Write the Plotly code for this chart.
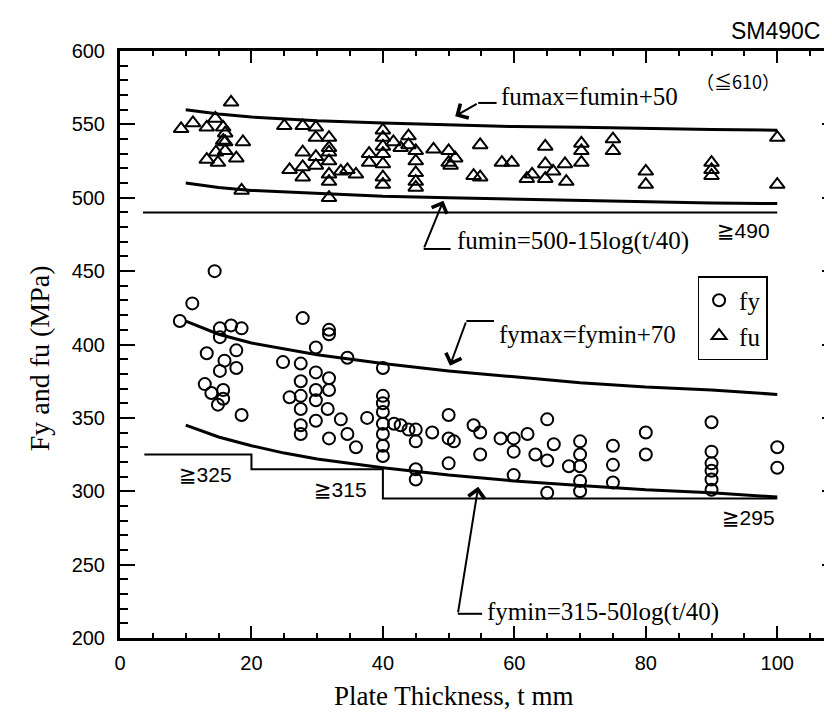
import plotly.graph_objects as go

# ---------------- data ----------------
fy_t = [14.4, 11.0, 9.1, 15.2, 16.9, 18.5, 15.2, 27.8, 31.8, 31.8, 29.8, 13.2, 17.7, 34.6,
        15.9, 17.7, 15.2, 12.9, 13.9, 15.7, 15.7, 14.9, 18.5,
        24.8, 27.5, 27.5, 29.8, 31.8, 31.8, 29.8, 27.5, 25.8, 29.8, 27.5, 31.6, 33.6, 29.8,
        27.5, 27.5, 31.8, 34.6, 35.9,
        40, 37.6, 40, 40, 40, 40, 40, 40, 40,
        41.7, 42.7, 43.9, 45, 45, 45, 45, 47.5, 50, 50, 50.8, 50,
        53.8, 54.8, 54.8, 57.9, 59.9, 59.9, 62, 59.9, 63.2, 65, 65, 66, 65, 68.3,
        70, 70, 70, 70, 70, 75, 75, 75, 80, 80, 90, 90, 90, 90, 90, 90, 100, 100]
fy_v = [450, 428, 416, 411, 413, 411, 405, 418, 410, 407, 398, 394, 396, 391,
        389, 384, 382, 373, 367, 369, 363, 359, 352,
        388, 387, 375, 381, 377, 369, 369, 365, 364, 362, 356, 356, 349, 348,
        345, 339, 336, 339, 330,
        384, 350, 365, 360, 354, 346, 339, 331, 324,
        346, 345, 342, 342, 334, 315, 308, 340, 352, 336, 334, 319,
        345, 340, 325, 336, 336, 327, 339, 311, 325, 321, 349, 332, 299, 317,
        334, 325, 317, 307, 300, 331, 318, 306, 340, 325, 347, 327, 319, 314, 308, 301, 330, 316]

fu_t = [9.3, 11.1, 13.2, 14.5, 15.7, 16.0, 16.9, 18.7, 13.2, 14.6, 14.9, 16.0, 16.0, 17.7, 18.5, 15.7,
        25.0, 27.8, 29.8, 29.8, 27.8, 29.8, 31.8, 31.8, 31.8, 31.8, 25.8, 27.8, 27.8, 29.8, 31.8, 31.8,
        31.8, 33.6, 34.6, 35.9,
        40, 40, 40, 40, 37.9, 37.9, 40, 40, 40,
        41.6, 42.7, 43.9, 43.9, 45, 45, 45, 45, 45, 47.7, 50, 50, 51, 50.3,
        54.8, 53.8, 54.8, 58.1, 59.6, 61.9, 62.7, 64.7, 64.7, 64.7, 65.9, 67.7, 67.9,
        70.2, 70.2, 70.2, 75, 75, 80, 80, 90, 90, 90, 100, 100]
fu_v = [547, 551, 548, 554, 548, 544, 565, 538, 526, 531, 524, 532, 538, 527, 505, 539,
        549, 549, 548, 541, 531, 528, 541, 534, 531, 525, 519, 521, 514, 522, 516, 511,
        500, 518, 519, 516,
        546, 541, 535, 530, 530, 524, 523, 514, 509,
        538, 534, 542, 536, 532, 525, 517, 511, 507, 533, 532, 524, 527, 522,
        536, 515, 514, 524, 524, 513, 516, 535, 523, 513, 518, 523, 511,
        537, 532, 524, 540, 532, 518, 509, 524, 519, 515, 541, 509]

curve_t = [10, 15, 20, 25, 30, 40, 50, 60, 70, 80, 90, 100]
fumax_v = [560, 557, 555, 553.5, 552.5, 551, 549.5, 548.5, 548, 547, 546.5, 546]
fumin_v = [510, 507, 505, 504, 503, 501, 500, 499, 498, 497, 496.5, 496]
fymax_v = [416, 407, 401, 397, 393, 387, 382, 378, 374, 371, 369, 366]
fymin_v = [345, 337, 331, 326, 322, 316, 311, 307, 304, 301, 299, 296]

fy_step_t = [3.7, 20, 20, 40, 40, 100]
fy_step_v = [325, 325, 315, 315, 295, 295]
fu_step_t = [3.5, 100]
fu_step_v = [490, 490]

x_ticks = [0, 20, 40, 60, 80, 100]
y_ticks = [200, 250, 300, 350, 400, 450, 500, 550, 600]

SERIF = "Liberation Serif, Times New Roman, serif"
SANS = "Liberation Sans, Arial, DejaVu Sans, sans-serif"

# plot-area geometry (pixels)
L, T, W, H = 112, 43, 720, 587


def px(xp):
    return (xp - L) / W


def py(yp):
    return (T + H - yp) / H


fig = go.Figure()

for cv in [fumax_v, fumin_v, fymax_v, fymin_v]:
    fig.add_trace(go.Scatter(x=curve_t, y=cv, mode="lines", line=dict(color="black", width=3),
                             showlegend=False, hoverinfo="skip"))
fig.add_trace(go.Scatter(x=fy_step_t, y=fy_step_v, mode="lines", line=dict(color="black", width=2),
                         showlegend=False, hoverinfo="skip"))
fig.add_trace(go.Scatter(x=fu_step_t, y=fu_step_v, mode="lines", line=dict(color="black", width=2),
                         showlegend=False, hoverinfo="skip"))

fig.add_trace(go.Scatter(x=fy_t, y=fy_v, mode="markers", name="fy",
                         marker=dict(symbol="circle-open", size=12, color="black",
                                     line=dict(color="black", width=2))))
fig.add_trace(go.Scatter(x=fu_t, y=fu_v, mode="markers", name="fu",
                         marker=dict(symbol="triangle-up-open", size=13, color="black",
                                     line=dict(color="black", width=2))))

# leader lines: (text_t, text_v, elbow_t, elbow_v, tip_t, tip_v, join_t, join_v, label)
leaders = [
    (57.7, 569.0, 54.5, 564.6, 51.0, 555.5, 57.3, 564.6, "fumax=fumin+50"),
    (50.9, 470.5, 46.2, 465.1, 49.2, 498.0, 50.3, 465.1, "fumin=500-15log(t/40)"),
    (57.4, 407.0, 52.7, 416.0, 50.2, 385.5, 56.9, 416.0, "fymax=fymin+70"),
    (55.6, 218.0, 51.4, 216.5, 54.5, 303.0, 55.1, 216.5, "fymin=315-50log(t/40)"),
]
annotations = []
shapes = []
for tt, tv, et, ev, pt, pv, jt, jv, lab in leaders:
    annotations.append(dict(x=tt, y=tv, xref="x", yref="y", text=lab, showarrow=False,
                            xanchor="left", yanchor="middle",
                            font=dict(family=SERIF, size=25, color="black")))
    shapes.append(dict(type="line", xref="x", yref="y", x0=et, y0=ev, x1=jt, y1=jv,
                       line=dict(color="black", width=2)))
    annotations.append(dict(x=pt, y=pv, xref="x", yref="y", ax=et, ay=ev, axref="x", ayref="y",
                            text="", showarrow=True, arrowhead=4, arrowsize=1.6, arrowwidth=2,
                            arrowcolor="black", standoff=0, startstandoff=0))

small = [
    (13.0, 311.1, "≧325"),
    (33.5, 300.9, "≧315"),
    (95.6, 281.8, "≧295"),
    (94.8, 478.0, "≧490"),
]
for t, v, s in small:
    annotations.append(dict(x=t, y=v, xref="x", yref="y", text=s, showarrow=False,
                            xanchor="center", yanchor="middle",
                            font=dict(family=SANS, size=21, color="black")))
annotations.append(dict(x=94.1, y=579.6, xref="x", yref="y", text="（≦610）", showarrow=False,
                        xanchor="center", yanchor="middle",
                        font=dict(family="Noto Sans CJK JP, DejaVu Sans, sans-serif", size=18, color="black")))
annotations.append(dict(x=px(770), y=py(23), xref="paper", yref="paper", text="SM490C",
                        showarrow=False, xanchor="center", yanchor="middle",
                        font=dict(family=SANS, size=23, color="black")))
# axis titles
annotations.append(dict(x=px(31), y=py(350), xref="paper", yref="paper", text="Fy and fu (MPa)",
                        textangle=-90, showarrow=False, xanchor="center", yanchor="middle",
                        font=dict(family=SERIF, size=28, color="black")))
annotations.append(dict(x=px(447), y=py(688), xref="paper", yref="paper",
                        text="Plate Thickness, t mm", showarrow=False,
                        xanchor="center", yanchor="middle",
                        font=dict(family=SERIF, size=27, color="black")))

fig.update_layout(
    width=832, height=715,
    margin=dict(l=L, r=832 - L - W, t=T, b=715 - T - H),
    paper_bgcolor="white", plot_bgcolor="white",
    showlegend=True,
    legend=dict(x=px(692), y=py(268), xanchor="left", yanchor="top",
                bordercolor="black", borderwidth=1.5, bgcolor="white",
                font=dict(family=SERIF, size=25, color="black"), tracegroupgap=0),
    annotations=annotations,
    shapes=shapes,
)
fig.update_xaxes(range=[0, W / 6.6], tickvals=x_ticks, ticktext=[str(v) for v in x_ticks],
                 showline=True, linecolor="black", linewidth=3, mirror="allticks",
                 ticks="inside", ticklen=12, tickwidth=1.5, tickcolor="black",
                 minor=dict(dtick=5, tick0=0, ticks="inside", ticklen=5, tickwidth=1.5, tickcolor="black"),
                 showgrid=False, zeroline=False,
                 tickfont=dict(family=SANS, size=20, color="black"), ticklabelstandoff=5)
fig.update_yaxes(range=[200, 600], tickvals=y_ticks, ticktext=[str(v) for v in y_ticks],
                 showline=True, linecolor="black", linewidth=3, mirror="allticks",
                 ticks="inside", ticklen=15, tickwidth=1.5, tickcolor="black",
                 minor=dict(dtick=10, tick0=200, ticks="inside", ticklen=8, tickwidth=1.5, tickcolor="black"),
                 showgrid=False, zeroline=False,
                 tickfont=dict(family=SANS, size=20, color="black"), ticklabelstandoff=8)

fig.write_html("out.html")
